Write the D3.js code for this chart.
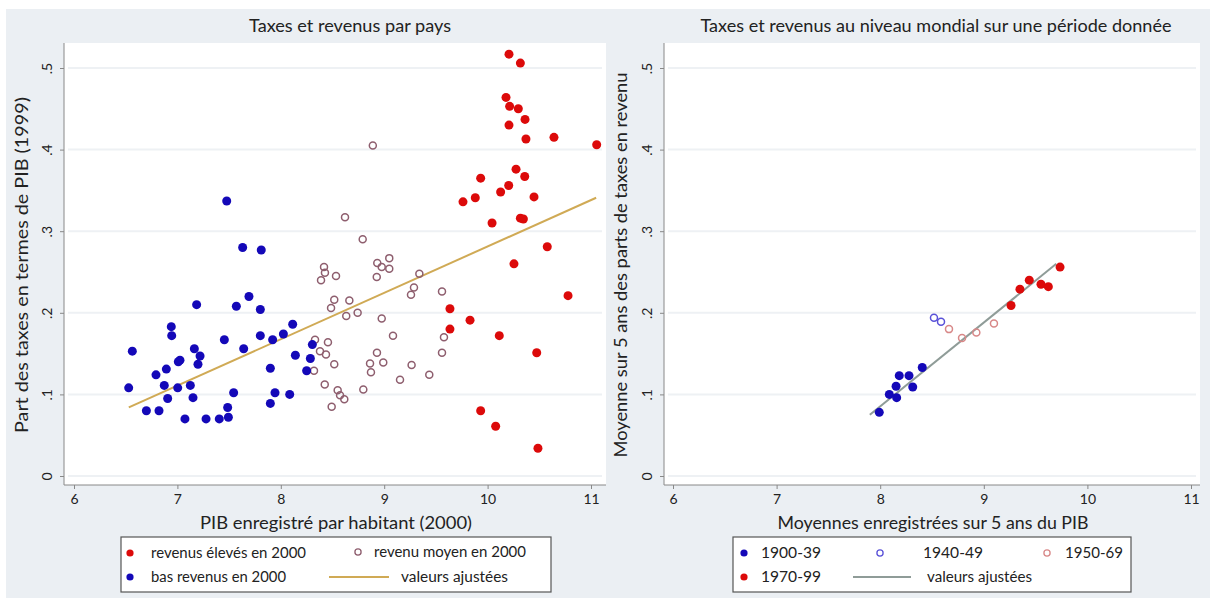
<!DOCTYPE html>
<html><head><meta charset="utf-8">
<script src="https://cdn.jsdelivr.net/npm/d3@7"></script>
<style>body{margin:0;background:#fff}svg{display:block}text{font-family:Lato,"Open Sans",sans-serif;fill:#222}</style>
</head><body><svg id="c" width="1216" height="598"></svg>
<script>
// ---- data: left panel (countries) ----
const lowX = [7.477,7.631,7.811,7.692,7.186,7.570,7.802,8.115,6.941,6.945,8.025,7.802,7.921,7.454,7.641,6.564,7.164,7.219,7.199,7.025,7.009,6.893,6.793,8.141,8.305,8.286,8.250,7.899,6.529,6.873,7.125,7.003,6.906,7.151,7.544,7.944,8.086,7.899,6.700,6.822,7.486,7.073,7.277,7.405,7.493];
const lowY = [0.337,0.280,0.277,0.220,0.210,0.208,0.204,0.186,0.183,0.172,0.174,0.172,0.167,0.167,0.156,0.153,0.156,0.147,0.137,0.142,0.140,0.131,0.124,0.148,0.161,0.144,0.129,0.132,0.108,0.111,0.111,0.108,0.095,0.096,0.102,0.102,0.100,0.089,0.080,0.080,0.084,0.070,0.070,0.070,0.072];
const midX = [8.621,8.792,8.418,8.427,8.389,8.534,8.933,9.049,8.976,9.049,8.928,9.340,9.288,9.259,9.559,8.517,8.486,8.663,8.743,8.633,8.976,9.085,9.578,9.559,8.456,8.379,8.437,8.331,8.321,8.517,8.930,8.863,8.991,8.872,9.265,9.436,9.153,8.425,8.550,8.573,8.614,8.798,8.492,8.890];
const midY = [0.317,0.290,0.256,0.249,0.240,0.245,0.261,0.267,0.256,0.254,0.244,0.248,0.231,0.222,0.226,0.216,0.206,0.215,0.200,0.196,0.193,0.172,0.170,0.151,0.164,0.153,0.149,0.167,0.129,0.137,0.151,0.138,0.139,0.127,0.136,0.124,0.118,0.112,0.105,0.099,0.094,0.106,0.085,0.405];
const highX = [10.207,10.317,10.178,10.213,10.297,10.362,10.207,10.371,10.642,11.055,10.275,10.359,9.933,10.204,10.126,9.881,9.762,10.449,10.317,10.346,10.043,10.577,10.255,10.778,9.636,9.830,9.636,10.113,10.475,9.933,10.078,10.487];
const highY = [0.517,0.506,0.464,0.453,0.450,0.437,0.430,0.413,0.415,0.406,0.376,0.367,0.365,0.356,0.348,0.341,0.336,0.342,0.316,0.315,0.310,0.281,0.260,0.221,0.205,0.191,0.180,0.172,0.151,0.080,0.061,0.034];
const fitLeftX = [6.53, 11.05];
const fitLeftY = [0.084, 0.341];
// ---- data: right panel (periods) ----
const p1900X = [7.991,8.088,8.159,8.153,8.184,8.278,8.314,8.406];
const p1900Y = [0.078,0.100,0.096,0.110,0.123,0.123,0.109,0.133];
const p1940X = [8.519,8.587];
const p1940Y = [0.194,0.189];
const p1950X = [8.664,8.790,8.928,9.098];
const p1950Y = [0.180,0.169,0.176,0.187];
const p1970X = [9.263,9.349,9.439,9.552,9.623,9.736];
const p1970Y = [0.209,0.229,0.240,0.235,0.232,0.256];
const fitRightX = [7.90, 9.70];
const fitRightY = [0.075, 0.260];
// ---- ticks / labels ----
const xTicks = [6,7,8,9,10,11];
const yTicks = [0,0.1,0.2,0.3,0.4,0.5];
const yTickLabels = ["0",".1",".2",".3",".4",".5"];
const titles = ["Taxes et revenus par pays","Taxes et revenus au niveau mondial sur une période donnée"];
const xTitles = ["PIB enregistré par habitant (2000)","Moyennes enregistrées sur 5 ans du PIB"];
const yTitles = ["Part des taxes en termes de PIB (1999)","Moyenne sur 5 ans des parts de taxes en revenu"];
const legendLeft = ["revenus élevés en 2000","revenu moyen en 2000","bas revenus en 2000","valeurs ajustées"];
const legendRight = ["1900-39","1940-49","1950-69","1970-99","valeurs ajustées"];

const svg = d3.select("#c");
svg.append("rect").attr("x",6).attr("y",9).attr("width",1204).attr("height",589).attr("fill","#ebeff3");

const C = {red:"#dc0a0a", blue:"#1408b8", mauve:"#8e5e6e", lblue:"#5a52d8", salmon:"#d88888", gold:"#d0aa55", grey:"#8f9c98"};

function fit(sel, w){ return sel.attr("textLength",w).attr("lengthAdjust","spacingAndGlyphs"); }

function panel(cfg){
  const g = svg.append("g");
  const x = d3.scaleLinear().domain([6,11]).range(cfg.xr);
  const y = d3.scaleLinear().domain([0,0.5]).range([476,68]);
  g.append("rect").attr("x",cfg.area[0]).attr("y",43).attr("width",cfg.area[1]-cfg.area[0]).attr("height",442).attr("fill","#fff");
  g.selectAll(".gr").data(yTicks).join("line").attr("x1",cfg.area[0]+4).attr("x2",cfg.area[1]-4)
    .attr("y1",d=>y(d)).attr("y2",d=>y(d)).attr("stroke","#eef1f4").attr("stroke-width",2);
  const ya = d3.axisLeft(y).tickValues(yTicks).tickFormat((d,i)=>yTickLabels[i]).tickSize(4);
  const yg = g.append("g").attr("transform",`translate(${cfg.area[0]},0)`).call(ya);
  yg.select(".domain").attr("d",`M0,43V485`);
  yg.selectAll(".tick text").attr("x",0).attr("y",0).attr("dy","0.35em").attr("text-anchor","middle")
    .attr("transform","translate(-17,0) rotate(-90)").attr("font-size",14).attr("fill","#333");
  const xa = d3.axisBottom(x).tickValues(xTicks).tickFormat(d3.format("d")).tickSize(4).tickPadding(5);
  const xg = g.append("g").attr("transform","translate(0,485)").call(xa);
  xg.select(".domain").attr("d",`M${cfg.area[0]},0H${cfg.area[1]}`);
  xg.selectAll("text").attr("font-size",14).attr("fill","#333");
  g.selectAll(".domain, .tick line").attr("stroke","#888");
  fit(g.append("text").attr("x",cfg.tx).attr("y",32).attr("text-anchor","middle").attr("font-size",16.5).text(cfg.title), cfg.tw);
  fit(g.append("text").attr("x",cfg.xtx).attr("y",529).attr("text-anchor","middle").attr("font-size",18).text(cfg.xtitle), cfg.xw);
  fit(g.append("text").attr("transform",`translate(${cfg.ytx},265) rotate(-90)`).attr("text-anchor","middle").attr("font-size",17.5).text(cfg.ytitle), cfg.yw);
  g.append("line").attr("x1",x(cfg.fitX[0])).attr("y1",y(cfg.fitY[0])).attr("x2",x(cfg.fitX[1])).attr("y2",y(cfg.fitY[1]))
    .attr("stroke",cfg.fitColor).attr("stroke-width",2);
  cfg.series.forEach(s=>{
    const pts = s.xs.map((v,i)=>[v,s.ys[i]]);
    g.append("g").selectAll("circle").data(pts).join("circle").attr("cx",d=>x(d[0])).attr("cy",d=>y(d[1]))
      .attr("r",s.hollow?3.5:4.5).attr("fill",s.hollow?"none":s.color).attr("stroke",s.color).attr("stroke-width",s.hollow?1.5:0);
  });
}

panel({xr:[74,591], area:[64,606], tx:350, tw:202, xtx:336, xw:272, ytx:28, yw:336, title:titles[0], xtitle:xTitles[0], ytitle:yTitles[0],
  fitX:fitLeftX, fitY:fitLeftY, fitColor:C.gold,
  series:[{xs:midX,ys:midY,color:C.mauve,hollow:true},{xs:lowX,ys:lowY,color:C.blue},{xs:highX,ys:highY,color:C.red}]});
panel({xr:[673,1191], area:[664,1200], tx:936, tw:471, xtx:933, xw:311, ytx:627, yw:385, title:titles[1], xtitle:xTitles[1], ytitle:yTitles[1],
  fitX:fitRightX, fitY:fitRightY, fitColor:C.grey,
  series:[{xs:p1900X,ys:p1900Y,color:C.blue},{xs:p1940X,ys:p1940Y,color:C.lblue,hollow:true},{xs:p1950X,ys:p1950Y,color:C.salmon,hollow:true},{xs:p1970X,ys:p1970Y,color:C.red}]});

function legend(box, items){
  const g = svg.append("g");
  g.append("rect").attr("x",box[0]).attr("y",box[1]).attr("width",box[2]).attr("height",box[3]).attr("fill","#fff").attr("stroke","#555").attr("stroke-width",1.2);
  items.forEach(it=>{
    if(it.type==="line") g.append("line").attr("x1",it.sx).attr("x2",it.sx2).attr("y1",it.y).attr("y2",it.y).attr("stroke",it.color).attr("stroke-width",2);
    else g.append("circle").attr("cx",it.sx).attr("cy",it.y).attr("r",it.hollow?3.1:3.6).attr("fill",it.hollow?"none":it.color).attr("stroke",it.color).attr("stroke-width",it.hollow?1.3:0);
    fit(g.append("text").attr("x",it.tx).attr("y",it.y).attr("dy","0.35em").attr("font-size",14.5).text(it.label), it.w);
  });
}
legend([121,537,430,55],[
  {sx:130,y:553,tx:151,w:155,color:C.red,label:legendLeft[0]},
  {sx:358,y:552,tx:374,w:152,color:C.mauve,hollow:true,label:legendLeft[1]},
  {sx:130,y:577,tx:151,w:135,color:C.blue,label:legendLeft[2]},
  {type:"line",sx:329,sx2:389,y:577,tx:401,w:107,color:C.gold,label:legendLeft[3]}
]);
legend([733,537,398,55],[
  {sx:744,y:553,tx:761,w:60,color:C.blue,label:legendRight[0]},
  {sx:880,y:553,tx:923,w:60,color:C.lblue,hollow:true,label:legendRight[1]},
  {sx:1047,y:553,tx:1065,w:58,color:C.salmon,hollow:true,label:legendRight[2]},
  {sx:744,y:577,tx:761,w:60,color:C.red,label:legendRight[3]},
  {type:"line",sx:853,sx2:911,y:577,tx:927,w:105,color:C.grey,label:legendRight[4]}
]);
</script></body></html>
